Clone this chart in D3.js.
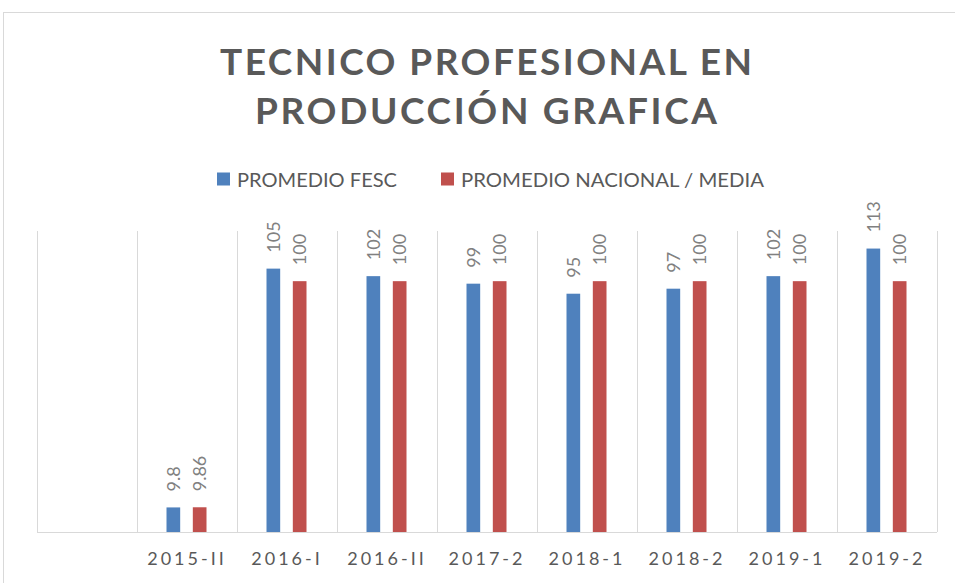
<!DOCTYPE html>
<html>
<head>
<meta charset="utf-8">
<script src="https://cdn.jsdelivr.net/npm/d3@7"></script>
<style>
  html, body { margin:0; padding:0; background:#fff; }
  svg { display:block; }
</style>
</head>
<body>
<div id="chart"></div>
<script>
// data
const categories = ["", "2015-II", "2016-I", "2016-II", "2017-2", "2018-1", "2018-2", "2019-1", "2019-2"]
const fesc     = [null, 9.8, 105, 102, 99, 95, 97, 102, 113]
const nacional = [null, 9.86, 100, 100, 100, 100, 100, 100, 100]
const seriesNames = ["PROMEDIO FESC", "PROMEDIO NACIONAL / MEDIA"]
const titleLines = ["TECNICO PROFESIONAL EN", "PRODUCCIÓN GRAFICA"]

function render(){
  let width = 955, height = 583,
      margin = { top:231, left:37, right:18, bottom:51 },
      innerWidth = width - margin.left - margin.right,
      innerHeight = height - margin.top - margin.bottom

  const color = d3.scaleOrdinal().domain(seriesNames).range(["#4f81bd", "#c0504d"])
  const font = "Lato, 'Open Sans', sans-serif"

  let svg = d3.select("#chart").append("svg")
    .attr("width", width).attr("height", height)
    .attr("viewBox", `0 0 ${width} ${height}`)

  // chart area border (runs off the right/bottom edge)
  svg.append("rect").attr("x", 3.5).attr("y", 12.5)
    .attr("width", 1000).attr("height", 1000)
    .attr("fill", "none").attr("stroke", "#d9d9d9")

  // title
  svg.append("g").selectAll("text")
    .data(titleLines)
    .enter().append("text")
    .attr("x", 486)
    .attr("y", (d,i) => 75 + i*49)
    .attr("text-anchor", "middle")
    .attr("font-family", font)
    .attr("font-weight", "bold")
    .attr("font-size", 37)
    .attr("fill", "#595959")
    .attr("textLength", (d,i) => i == 0 ? 532 : 462)
    .attr("lengthAdjust", "spacing")
    .text(d => d)

  // legend
  let legendX = [217, 441], legendW = [160, 303]
  let lg = svg.append("g").selectAll("g")
    .data(seriesNames)
    .enter().append("g")
    .attr("transform", (d,i) => `translate(${legendX[i]},172.5)`)
  lg.append("rect").attr("width", 13).attr("height", 13).attr("fill", d => color(d))
  lg.append("text")
    .attr("x", 20).attr("y", 14)
    .attr("font-family", font).attr("font-size", 20)
    .attr("fill", "#595959")
    .attr("textLength", (d,i) => legendW[i])
    .attr("lengthAdjust", "spacingAndGlyphs")
    .text(d => d)

  let xScale = d3.scaleBand().domain(categories).range([0, innerWidth]).padding(0)
  let xInner = d3.scaleBand().domain(seriesNames).range([29.5, 69.5]).paddingInner(0.48)
  let yScale = d3.scaleLinear().domain([0, 120]).range([innerHeight, 0])

  let g = svg.append("g").attr("transform", `translate(${margin.left},${margin.top})`)

  // vertical gridlines between categories
  let bounds = categories.map(c => xScale(c)).concat([innerWidth])
  g.append("g").selectAll("line")
    .data(bounds)
    .enter().append("line")
    .attr("x1", d => Math.round(d) + 0.5).attr("x2", d => Math.round(d) + 0.5)
    .attr("y1", 0).attr("y2", innerHeight)
    .attr("stroke", "#d9d9d9")

  // bars
  let rows = categories.map((c,i) => ({ cat:c, values:[
    { name:seriesNames[0], v:fesc[i] },
    { name:seriesNames[1], v:nacional[i] } ] }))

  let cg = g.append("g").selectAll("g")
    .data(rows)
    .enter().append("g")
    .attr("transform", d => `translate(${xScale(d.cat)},0)`)

  let cells = cg.selectAll("g")
    .data(d => d.values.filter(e => e.v != null))
    .enter().append("g")

  cells.append("rect")
    .attr("x", d => xInner(d.name))
    .attr("width", xInner.bandwidth())
    .attr("y", d => yScale(d.v))
    .attr("height", d => innerHeight - yScale(d.v))
    .attr("fill", d => color(d.name))

  cells.append("text")
    .attr("transform", d => `translate(${xInner(d.name) + xInner.bandwidth()/2},${yScale(d.v) - 16}) rotate(-90)`)
    .attr("dy", "0.35em")
    .attr("font-family", font).attr("font-size", 18)
    .attr("fill", "#808080")
    .text(d => String(d.v))

  // x axis
  let xAxis = d3.axisBottom(xScale).tickSize(0).tickPadding(0)
  let ax = g.append("g").call(xAxis).attr("transform", `translate(0,${innerHeight})`)
  ax.select(".domain").remove()
  ax.selectAll("text")
    .attr("y", 33).attr("dy", 0)
    .attr("font-family", font).attr("font-size", 18)
    .attr("letter-spacing", 3)
    .attr("fill", "#595959")
  g.append("line")
    .attr("x1", 0).attr("x2", innerWidth)
    .attr("y1", innerHeight + 0.5).attr("y2", innerHeight + 0.5)
    .attr("stroke", "#d9d9d9")
}

render()
</script>
</body>
</html>
